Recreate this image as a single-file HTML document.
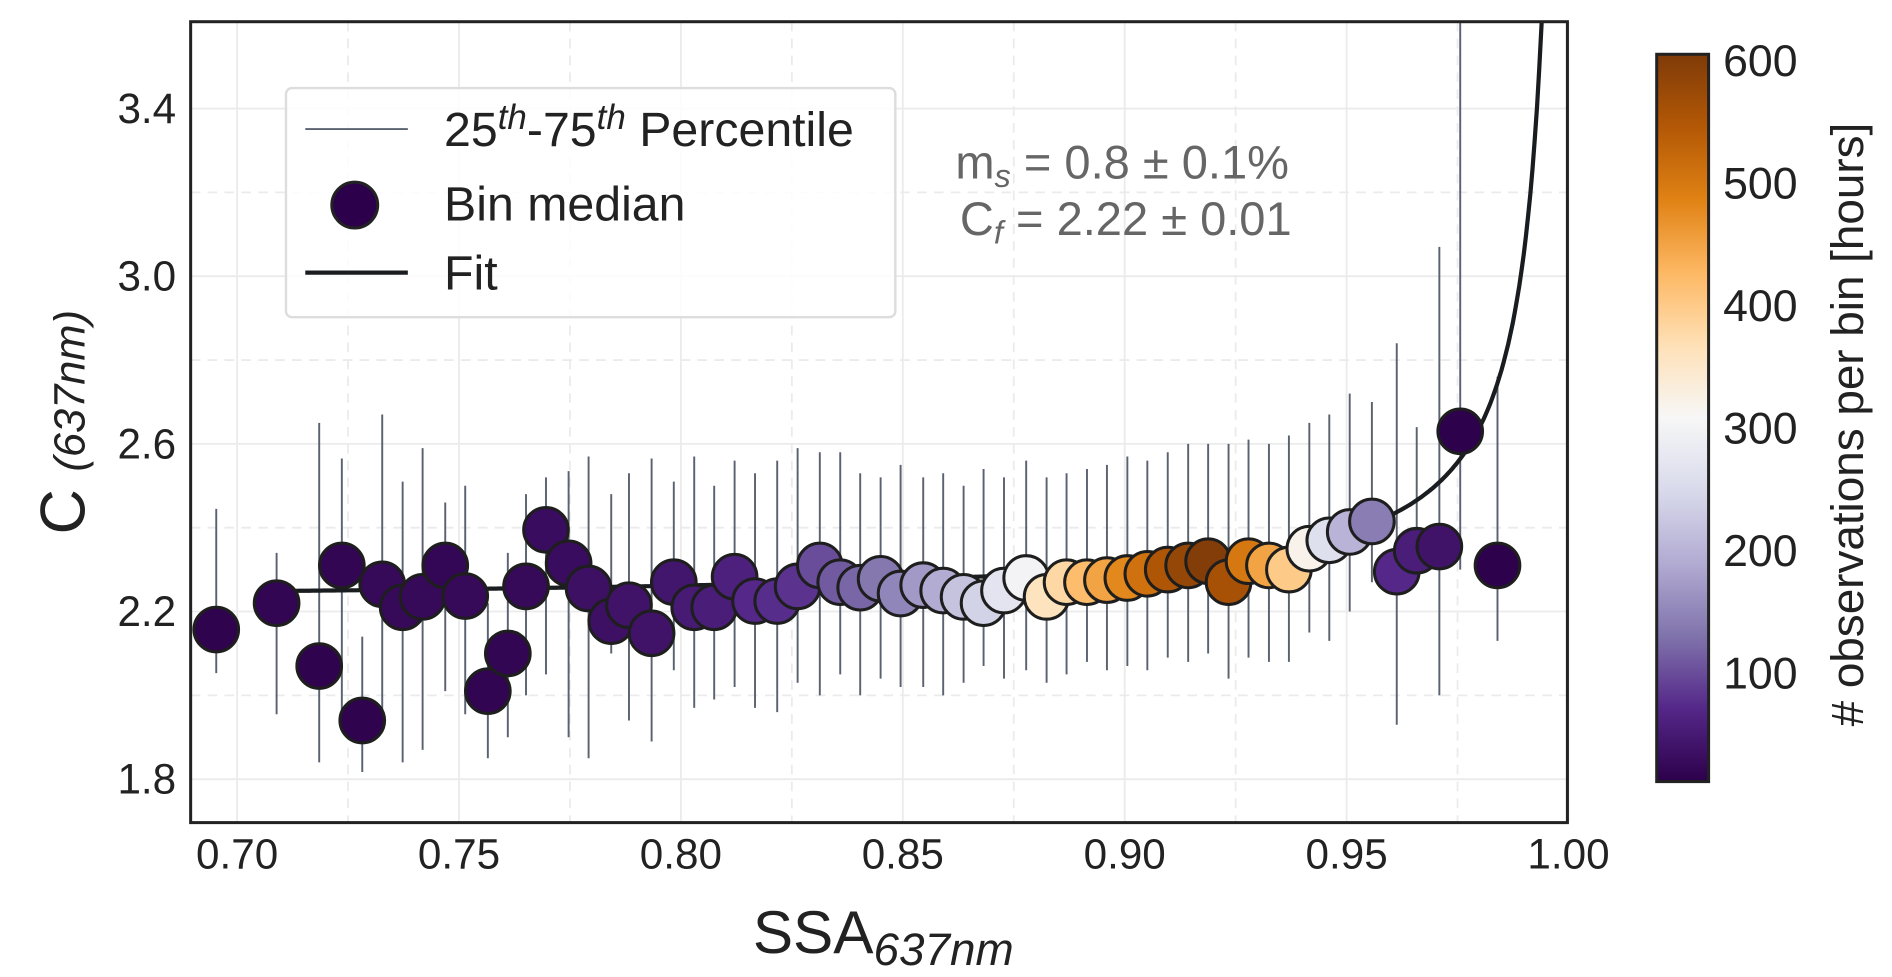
<!DOCTYPE html>
<html><head><meta charset="utf-8"><style>
html,body{margin:0;padding:0;background:#fff;}
svg{display:block;font-family:"Liberation Sans",sans-serif;}
</style></head><body>
<svg id="chart" width="1892" height="977" viewBox="0 0 1568 810" preserveAspectRatio="none" xmlns="http://www.w3.org/2000/svg">
<defs>
<linearGradient id="cbgrad" x1="0" y1="1" x2="0" y2="0">
<stop offset="0" stop-color="#2d004b"/><stop offset="0.1" stop-color="#542788"/><stop offset="0.2" stop-color="#8073ac"/><stop offset="0.3" stop-color="#b2abd2"/><stop offset="0.4" stop-color="#d8daeb"/><stop offset="0.5" stop-color="#f7f7f7"/><stop offset="0.6" stop-color="#fee0b6"/><stop offset="0.7" stop-color="#fdb863"/><stop offset="0.8" stop-color="#e08214"/><stop offset="0.9" stop-color="#b35806"/><stop offset="1" stop-color="#7f3b08"/>
</linearGradient>
<clipPath id="plotclip"><rect x="158" y="18" width="1141" height="664"/></clipPath>
</defs>
<g id="grid"></g>
<g id="bars" clip-path="url(#plotclip)"></g>
<g id="fit" clip-path="url(#plotclip)"></g>
<g id="pts"></g>
<rect x="158" y="18" width="1141" height="664" fill="none" stroke="#222" stroke-width="2.5"/>
<g id="xt"></g>
<g id="yt"></g>
<text x="732" y="790" font-size="50" text-anchor="middle" fill="#222">SSA<tspan font-size="38" dy="10" font-style="italic">637nm</tspan></text>
<text transform="translate(70,350) rotate(-90)" font-size="52" text-anchor="middle" fill="#222">C <tspan font-size="36" font-style="italic">(637nm)</tspan></text>
<g fill="#666" font-size="39" text-anchor="middle">
<text x="930" y="148">m<tspan font-size="27" dy="7" font-style="italic">s</tspan><tspan dy="-7"> = 0.8 ± 0.1%</tspan></text>
<text x="933" y="195">C<tspan font-size="27" dy="7" font-style="italic">f</tspan><tspan dy="-7"> = 2.22 ± 0.01</tspan></text>
</g>
<g>
<rect x="237" y="73" width="505" height="190" rx="5" fill="#fff" fill-opacity="0.85" stroke="#ddd" stroke-width="2"/>
<line x1="253" y1="107" x2="338" y2="107" stroke="#5a6270" stroke-width="1.5"/>
<text x="368" y="121" font-size="40" fill="#222">25<tspan font-size="29" dy="-14" font-style="italic">th</tspan><tspan dy="14">-75</tspan><tspan font-size="29" dy="-14" font-style="italic">th</tspan><tspan dy="14"> Percentile</tspan></text>
<circle cx="294" cy="170" r="19" fill="#2d004b" stroke="#222" stroke-width="2.5"/>
<text x="368" y="183" font-size="40" fill="#222">Bin median</text>
<line x1="253" y1="226" x2="338" y2="226" stroke="#1a1d20" stroke-width="3.5"/>
<text x="368" y="240" font-size="40" fill="#222">Fit</text>
</g>
<g>
<rect x="1373" y="45" width="43" height="603" fill="url(#cbgrad)" stroke="#222" stroke-width="2.5"/>
<g id="cbt"></g>
<text transform="translate(1544,352) rotate(-90)" font-size="38" text-anchor="middle" fill="#222"># observations per bin [hours]</text>
</g>
</svg>
<script>
const xs=[0.6953,0.7089,0.7185,0.7236,0.7282,0.7327,0.7373,0.7418,0.7469,0.7514,0.7565,0.7610,0.7651,0.7696,0.7747,0.7792,0.7843,0.7883,0.7934,0.7984,0.8030,0.8075,0.8121,0.8167,0.8217,0.8263,0.8313,0.8359,0.8404,0.8450,0.8495,0.8546,0.8591,0.8637,0.8682,0.8728,0.8778,0.8824,0.8869,0.8915,0.8960,0.9006,0.9051,0.9097,0.9143,0.9188,0.9234,0.9279,0.9325,0.9370,0.9416,0.9461,0.9507,0.9557,0.9613,0.9658,0.9709,0.9756,0.9840];
const ys=[2.157,2.22,2.07,2.31,1.94,2.265,2.21,2.235,2.31,2.237,2.01,2.10,2.26,2.395,2.315,2.255,2.177,2.215,2.148,2.27,2.21,2.21,2.283,2.225,2.225,2.26,2.31,2.27,2.257,2.278,2.243,2.263,2.25,2.235,2.22,2.25,2.28,2.235,2.27,2.27,2.275,2.28,2.29,2.30,2.31,2.32,2.27,2.32,2.31,2.30,2.35,2.37,2.39,2.415,2.295,2.345,2.355,2.63,2.31];
const los=[2.053,1.955,1.84,1.93,1.817,1.93,1.84,1.87,2.01,1.955,1.85,1.90,2.0,2.05,1.9,1.85,2.1,1.94,1.89,2.06,1.97,1.99,2.02,1.97,1.96,2.03,2.0,2.05,2.0,2.04,2.02,2.02,2.0,2.03,2.07,2.04,2.06,2.03,2.05,2.08,2.06,2.07,2.06,2.09,2.08,2.10,2.04,2.09,2.08,2.08,2.15,2.13,2.20,2.27,1.93,2.27,2.0,2.30,2.13];
const his=[2.445,2.34,2.65,2.565,2.14,2.67,2.51,2.59,2.46,2.5,2.22,2.34,2.48,2.52,2.535,2.57,2.48,2.53,2.565,2.51,2.57,2.5,2.56,2.53,2.56,2.59,2.58,2.58,2.53,2.52,2.55,2.52,2.53,2.50,2.54,2.52,2.56,2.52,2.53,2.54,2.55,2.57,2.56,2.58,2.6,2.6,2.6,2.61,2.6,2.62,2.65,2.67,2.72,2.70,2.84,2.64,3.07,3.7,2.76];
const ns=[15,20,15,20,15,25,25,25,22,25,18,20,25,30,30,35,35,40,40,45,50,55,60,70,75,80,100,110,120,135,150,170,190,220,240,270,300,360,380,420,450,480,510,550,580,600,560,500,450,400,320,260,200,140,70,55,40,12,12];
const xTicks=[0.70,0.75,0.80,0.85,0.90,0.95,1.00];
const yTicks=[1.8,2.2,2.6,3.0,3.4];
const cbTicks=[100,200,300,400,500,600];
const fitCf=2.22, fitK=0.0084, fitStart=0.7094;

const X=v=>196.5+(v-0.70)*3678;
const Y=v=>646-(v-1.8)*347.5;
const CB=v=>659.6-(v)*1.016;
const NS="http://www.w3.org/2000/svg";
function mk(tag,attrs,parent){const e=document.createElementNS(NS,tag);for(const k in attrs)e.setAttribute(k,attrs[k]);parent.appendChild(e);return e;}
const cstops=["#2d004b","#542788","#8073ac","#b2abd2","#d8daeb","#f7f7f7","#fee0b6","#fdb863","#e08214","#b35806","#7f3b08"];
function cmap(n){let t=(n-11)/(605-11);t=Math.max(0,Math.min(1,t))*10;const i=Math.min(9,Math.floor(t)),f=t-i;
const a=cstops[i],b=cstops[i+1];const p=s=>[1,3,5].map(j=>parseInt(s.substr(j,2),16));const A=p(a),B=p(b);
return "rgb("+A.map((v,j)=>Math.round(v+(B[j]-v)*f)).join(",")+")";}

const grid=document.getElementById('grid');
for(let v=0.70;v<=1.0001;v+=0.025){const l=mk('line',{x1:X(v),x2:X(v),y1:18,y2:682,stroke:'#ebebeb','stroke-width':1.5},grid);
if(Math.round(v*1000)%50!==0)l.setAttribute('stroke-dasharray','8,6');

}
for(let v=1.8;v<=3.6;v+=0.2){const l=mk('line',{x1:158,x2:1299,y1:Y(v),y2:Y(v),stroke:'#ebebeb','stroke-width':1.5},grid);
if(Math.round(v*10)%4!==2)l.setAttribute('stroke-dasharray','8,6');

}

const bars=document.getElementById('bars');
xs.forEach((x,i)=>{const l=mk('line',{x1:X(x),x2:X(x),y1:Y(los[i]),y2:Y(his[i]),stroke:'#5a6270','stroke-width':1.6},bars);

});

let d="";for(let w=fitStart;w<0.9999;w+=0.0005){const c=fitCf+fitK/(1-w);d+=(d?"L":"M")+X(w).toFixed(1)+","+Y(Math.min(c,5)).toFixed(1);if(c>5)break;}
const fp=mk('path',{d:d,fill:'none',stroke:'#1a1d20','stroke-width':3.5},document.getElementById('fit'));



const pts=document.getElementById('pts');
xs.forEach((x,i)=>{const c=mk('circle',{cx:X(x),cy:Y(ys[i]),r:18.5,fill:cmap(ns[i]),stroke:'#1e1e1e','stroke-width':2.5},pts);

});

const xt=document.getElementById('xt');
xTicks.forEach(v=>{const t=mk('text',{x:X(v),y:720,'font-size':35,'text-anchor':'middle',fill:'#222'},xt);t.textContent=v.toFixed(2);

});
const yt=document.getElementById('yt');
yTicks.forEach(v=>{const t=mk('text',{x:146,y:Y(v)+12,'font-size':35,'text-anchor':'end',fill:'#222'},yt);t.textContent=v.toFixed(1);

});
const cbt=document.getElementById('cbt');
cbTicks.forEach(v=>{const t=mk('text',{x:1428,y:CB(v)+13,'font-size':37,fill:'#222'},cbt);t.textContent=v;

});
</script>
</body></html>
